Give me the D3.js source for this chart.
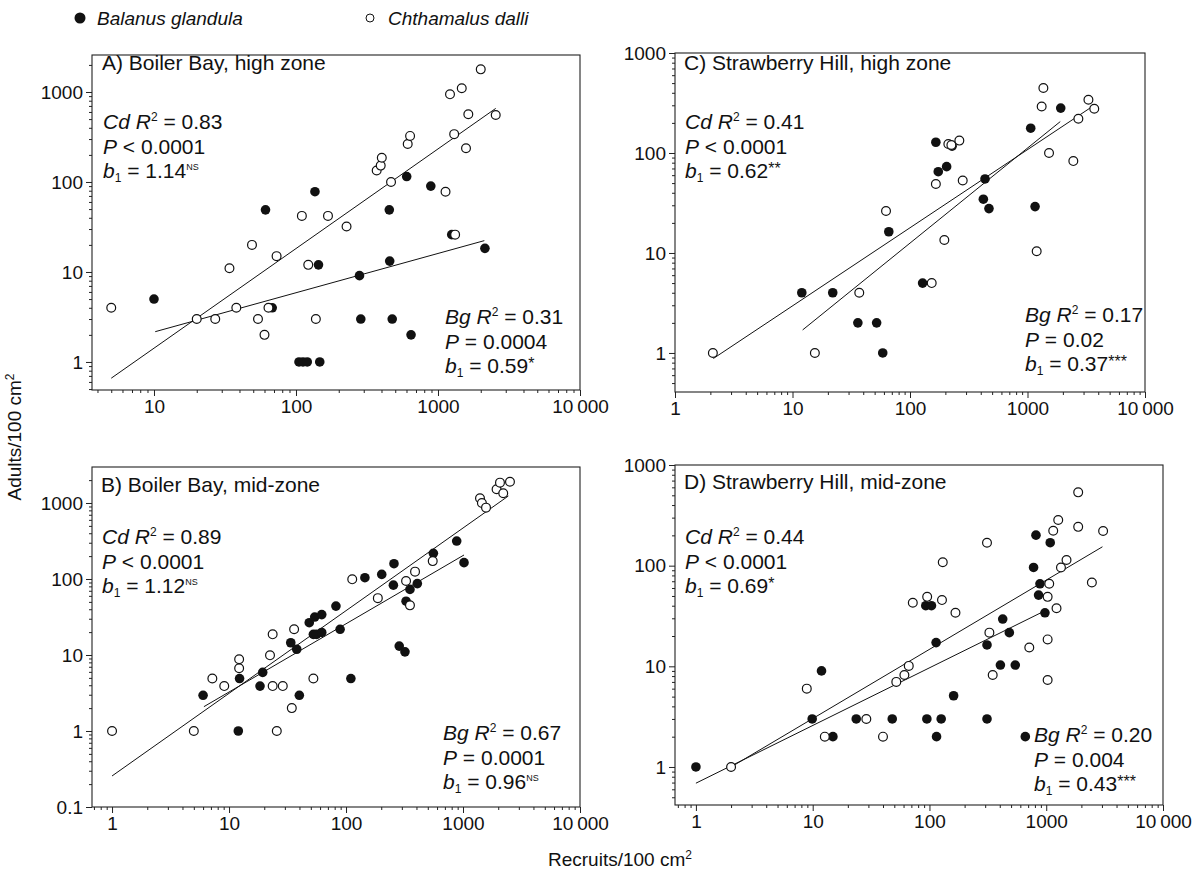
<!DOCTYPE html>
<html><head><meta charset="utf-8">
<script src="https://cdn.jsdelivr.net/npm/d3@7"></script>
<style>
body{margin:0;background:#fff;}
svg text{font-family:"Liberation Sans",Arial,Helvetica,sans-serif;fill:#111;white-space:pre;}
</style></head><body>
<svg id="chart" width="1198" height="874"></svg>
<script>
// ---------- data ----------
const decadeTicks = [0.1, 1, 10, 100, 1000, 10000];
const decadeLabels = ["0.1", "1", "10", "100", "1000", "10\u2009000"];
const legendNames = ["Balanus glandula", "Chthamalus dalli"];
const axisTitles = ["Recruits/100 cm", "Adults/100 cm"];

// Panel A: Boiler Bay, high zone  [recruits, adults]
const aCd = [[5,4],[20,3],[27,3],[34,11],[38,4],[49,20],[54,3],[60,2],[64,4],[73,15],[110,42],[122,12],[138,3],[168,42],[227,32],[370,134],[395,152],[402,186],[467,100],[612,264],[636,325],[1130,78],[1215,942],[1300,340],[1320,26],[1470,1100],[1575,237],[1635,565],[2000,1785],[2550,555]];
const aBg = [[10,5],[61,49],[68,4],[105,1],[112,1],[120,1],[136,78],[144,12],[147,1],[280,9.1],[286,3],[454,49],[457,13.2],[476,3],[602,115],[646,2],[890,90],[1250,26],[2140,18.3]];
const aCdFit = [[5,0.66],[2550,657]];
const aBgFit = [[10.2,2.17],[2120,22.3]];
const aCdStats = ["Cd","0.83","<","0.0001","1.14","NS"];
const aBgStats = ["Bg","0.31","=","0.0004","0.59","*"];

// Panel B: Boiler Bay, mid-zone
const bCd = [[1,1],[5,1],[7.2,4.9],[9.1,3.9],[12.2,6.7],[12.2,8.8],[22.4,9.9],[23.6,18.7],[23.6,3.9],[25.6,1],[28.8,3.9],[34.4,2],[36,21.8],[52.6,4.9],[113,99],[187,56],[326,94],[352,45],[389,125],[551,172],[1397,1153],[1450,1000],[1573,869],[1936,1515],[2070,1853],[2207,1343],[2520,1905]];
const bBg = [[6,2.95],[12.3,4.9],[12,1],[18.4,3.9],[19.4,5.9],[33.7,14.5],[37.9,11.9],[39.9,2.95],[48.5,26.6],[52.6,18.7],[54,31.6],[56,18.7],[62,34],[62,19.8],[82,44],[89,21.8],[110,4.9],[145,104],[202,115],[254,83],[257,159],[285,13.1],[319,11],[326,51],[352,73],[407,87],[558,218],[883,316],[1020,164]];
const bCdFit = [[1,0.256],[2440,1236]];
const bBgFit = [[6.1,2.09],[1020,207]];
const bCdStats = ["Cd","0.89","<","0.0001","1.12","NS"];
const bBgStats = ["Bg","0.67","=","0.0001","0.96","NS"];

// Panel C: Strawberry Hill, high zone
const cCd = [[2.1,1],[15.5,1],[37,4],[62.5,26.3],[153,5],[166,49],[196,13.5],[212,123],[225,120],[263,133],[281,53],[1197,10.4],[1320,292],[1365,447],[1525,100],[2455,83],[2710,220],[3300,341],[3700,277]];
const cBg = [[12,4],[22,4],[36,2],[52,2],[58.6,1],[66,16.3],[128,5],[166,128],[174,65],[205,73],[228,117],[421,34.5],[435,55],[470,27.8],[1065,177],[1160,29.1],[1918,281]];
const cCdFit = [[2.12,0.88],[3400,281]];
const cBgFit = [[12.2,1.7],[1900,206]];
const cCdStats = ["Cd","0.41","<","0.0001","0.62","**"];
const cBgStats = ["Bg","0.17","=","0.02","0.37","***"];

// Panel D: Strawberry Hill, mid-zone
const dCd = [[2,1],[8.9,6],[12.7,2],[28.8,3],[40,2],[52,7],[61,8.2],[66.5,10.1],[72,42.8],[95.6,49],[128,45.5],[130,108],[167,34],[311,169],[326,21.6],[348,8.2],[716,15.4],[1028,18.5],[1028,7.3],[1028,49],[1061,66],[1148,222],[1225,37.7],[1267,284],[1337,96],[1492,114],[1878,535],[1878,243],[2460,68],[3070,221]];
const dBg = [[1,1],[9.9,3],[11.9,9],[14.9,2],[23.6,3],[48,3],[93,40],[95,3],[104,40],[114,17.2],[115,2],[126,3],[161,5.1],[311,3],[311,16.3],[405,10.3],[424,29.5],[483,21.6],[543,10.3],[662,2],[779,96],[817,201],[860,51],[884,66],[975,34],[1082,169]];
const dCdFit = [[2,1],[3030,154]];
const dBgFit = [[1,0.69],[993,36]];
const dCdStats = ["Cd","0.44","<","0.0001","0.69","*"];
const dBgStats = ["Bg","0.20","=","0.004","0.43","***"];

const panelTitles = ["A) Boiler Bay, high zone","B) Boiler Bay, mid-zone","C) Strawberry Hill, high zone","D) Strawberry Hill, mid-zone"];

// ---------- layout ----------
const panels = [
  {title:panelTitles[0], box:[92,580,55,390], xDom:[3.66,10000], yDom:[0.488,2577],
   cd:aCd, bg:aBg, cdFit:aCdFit, bgFit:aBgFit, cdS:aCdStats, bgS:aBgStats,
   tXY:[102,70], cdXY:[103,129], bgXY:[445,324]},
  {title:panelTitles[1], box:[92,580,467,807], xDom:[0.674,10000], yDom:[0.1,2976],
   cd:bCd, bg:bBg, cdFit:bCdFit, bgFit:bBgFit, cdS:bCdStats, bgS:bBgStats,
   tXY:[101,492], cdXY:[102,544], bgXY:[443,740]},
  {title:panelTitles[2], box:[675,1145,53,392], xDom:[1,10000], yDom:[0.407,1000],
   cd:cCd, bg:cBg, cdFit:cCdFit, bgFit:cBgFit, cdS:cCdStats, bgS:cBgStats,
   tXY:[684,70], cdXY:[685,129], bgXY:[1025,322]},
  {title:panelTitles[3], box:[675,1163,465,805], xDom:[0.662,10000], yDom:[0.419,1000],
   cd:dCd, bg:dBg, cdFit:dCdFit, bgFit:dBgFit, cdS:dCdStats, bgS:dBgStats,
   tXY:[684,489], cdXY:[685,544], bgXY:[1034,742]}
];

const svg = d3.select("#chart");
const FS = 21, TICKFS = 19, LH = 24.7, R = 4.8;

function rich(g, x, y, segs, size) {
  const t = g.append("text").attr("x", x).attr("y", y).attr("font-size", size);
  let shift = 0;
  segs.forEach(s => {
    const sp = t.append("tspan").text(s.t);
    const target = s.sup ? -s.sup : (s.sub ? s.sub : 0);
    if (target - shift) sp.attr("dy", target - shift);
    shift = target;
    if (s.i) sp.attr("font-style", "italic");
    if (s.fs) sp.attr("font-size", s.fs);
  });
  return t;
}

function statBlock(g, x, y, s) {
  rich(g, x, y, [{t:s[0], i:1}, {t:" "}, {t:"R", i:1}, {t:"2", sup:8, fs:12}, {t:" = " + s[1]}], FS);
  rich(g, x, y + LH, [{t:"P", i:1}, {t:" " + s[2] + " " + s[3]}], FS);
  const sig = s[5] === "NS" ? {t:"NS", sup:8, fs:9} : {t:s[5], sup:4, fs:16};
  rich(g, x, y + 2 * LH, [{t:"b", i:1}, {t:"1", sub:4, fs:12}, {t:" = " + s[4]}, sig], FS);
}

function minorTicks(dom) {
  const out = [];
  decadeTicks.concat([0.01, 100000]).forEach(d => {
    for (let k = 2; k <= 9; k++) {
      const v = d * k;
      if (v >= dom[0] * 0.999 && v <= dom[1] * 1.001) out.push(v);
    }
  });
  return out;
}

function fmt(v) { const i = decadeTicks.indexOf(v); return i >= 0 ? decadeLabels[i] : ""; }

panels.forEach(p => {
  const [L, Rr, T, B] = p.box;
  const x = d3.scaleLog().domain(p.xDom).range([L, Rr]);
  const y = d3.scaleLog().domain(p.yDom).range([B, T]);
  const g = svg.append("g");

  const inDom = (dom) => decadeTicks.filter(v => v >= dom[0] * 0.999 && v <= dom[1] * 1.001);

  // axes (major + minor)
  g.append("g").attr("transform", `translate(0,${B})`)
    .call(d3.axisBottom(x).tickValues(inDom(p.xDom)).tickFormat(fmt).tickSize(6).tickPadding(4));
  g.append("g").attr("transform", `translate(0,${B})`)
    .call(d3.axisBottom(x).tickValues(minorTicks(p.xDom)).tickFormat("").tickSize(3));
  g.append("g").attr("transform", `translate(${L},0)`)
    .call(d3.axisLeft(y).tickValues(inDom(p.yDom)).tickFormat(fmt).tickSize(6).tickPadding(3));
  g.append("g").attr("transform", `translate(${L},0)`)
    .call(d3.axisLeft(y).tickValues(minorTicks(p.yDom)).tickFormat("").tickSize(3));
  g.selectAll(".domain").remove();
  g.selectAll(".tick line").attr("stroke", "#222").attr("stroke-width", 1);
  g.selectAll(".tick text").attr("font-size", TICKFS).attr("font-family", "Liberation Sans, Arial, sans-serif").attr("fill", "#111");

  // frame
  g.append("rect").attr("x", L).attr("y", T).attr("width", Rr - L).attr("height", B - T)
    .attr("fill", "none").attr("stroke", "#222").attr("stroke-width", 1.1);

  // fit lines
  const line = d3.line().x(d => x(d[0])).y(d => y(d[1]));
  [p.cdFit, p.bgFit].forEach(f => g.append("path").attr("d", line(f))
    .attr("fill", "none").attr("stroke", "#111").attr("stroke-width", 1));

  // points
  g.selectAll(".bg").data(p.bg).join("circle").attr("class", "bg")
    .attr("cx", d => x(d[0])).attr("cy", d => y(d[1])).attr("r", R).attr("fill", "#111");
  g.selectAll(".cd").data(p.cd).join("circle").attr("class", "cd")
    .attr("cx", d => x(d[0])).attr("cy", d => y(d[1])).attr("r", R - 0.4)
    .attr("fill", "#fff").attr("stroke", "#111").attr("stroke-width", 1.2);

  // texts
  g.append("text").attr("x", p.tXY[0]).attr("y", p.tXY[1]).attr("font-size", FS).text(p.title);
  statBlock(g, p.cdXY[0], p.cdXY[1], p.cdS);
  statBlock(g, p.bgXY[0], p.bgXY[1], p.bgS);
});

// legend
const lg = svg.append("g");
lg.append("circle").attr("cx", 80).attr("cy", 18).attr("r", 5.5).attr("fill", "#111");
lg.append("text").attr("x", 97).attr("y", 25).attr("font-size", 19).attr("font-style", "italic").text(legendNames[0]);
lg.append("circle").attr("cx", 370).attr("cy", 18).attr("r", 4).attr("fill", "#fff").attr("stroke", "#111").attr("stroke-width", 1);
lg.append("text").attr("x", 388).attr("y", 25).attr("font-size", 19).attr("font-style", "italic").text(legendNames[1]);

// axis titles
rich(svg, 548, 866, [{t:axisTitles[0]}, {t:"2", sup:7, fs:12}], 19);
rich(svg, 0, 0, [{t:axisTitles[1]}, {t:"2", sup:7, fs:12}], 19)
  .attr("text-anchor", "middle").attr("transform", "translate(21,437) rotate(-90)");
</script>
</body></html>
